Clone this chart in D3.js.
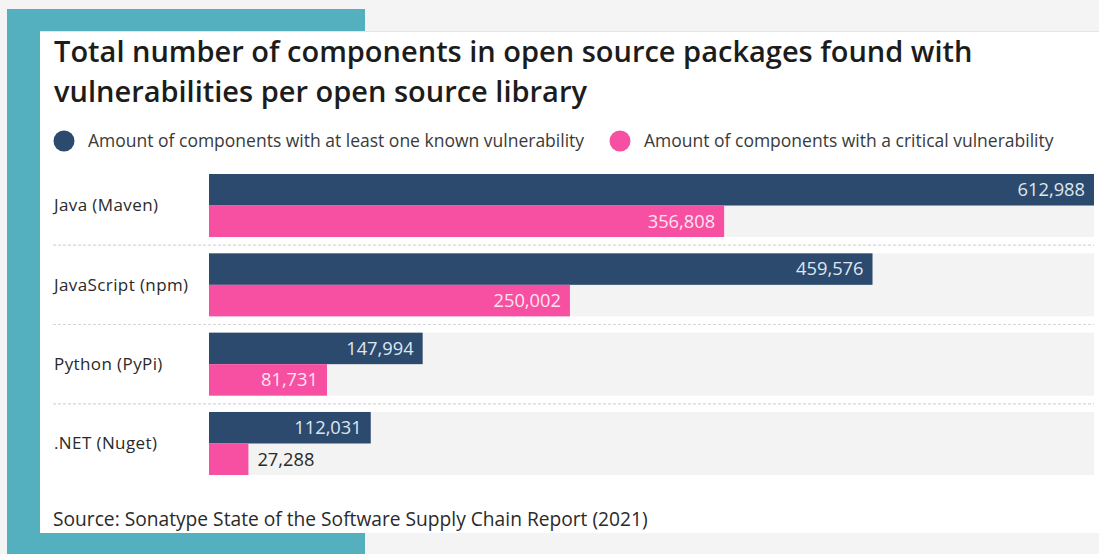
<!DOCTYPE html>
<html>
<head>
<meta charset="utf-8">
<script src="https://cdn.jsdelivr.net/npm/d3@7"></script>
<style>
  html, body { margin: 0; padding: 0; background: #f4f4f4; }
  svg { display: block; }
</style>
</head>
<body>
<svg id="chart" width="1099" height="554"></svg>
<script>
const categories = ["Java (Maven)", "JavaScript (npm)", "Python (PyPi)", ".NET (Nuget)"];
const seriesNames = ["Amount of components with at least one known vulnerability",
                     "Amount of components with a critical vulnerability"];
const atLeastOne = [612988, 459576, 147994, 112031];
const critical = [356808, 250002, 81731, 27288];
const titleLines = ["Total number of components in open source packages found with",
                    "vulnerabilities per open source library"];
const sourceText = "Source: Sonatype State of the Software Supply Chain Report (2021)";

const colors = ["#2c4a6e", "#f74fa2"];
const font = "'Open Sans', 'Noto Sans', sans-serif";

const svg = d3.select("#chart");

// background decorations
svg.append("rect").attr("x", 7).attr("y", 9).attr("width", 358).attr("height", 545).attr("fill", "#54afbf");
svg.append("rect").attr("x", 40).attr("y", 31).attr("width", 1059).attr("height", 1).attr("fill", "#e4e4e4");
svg.append("rect").attr("x", 40).attr("y", 32).attr("width", 1059).attr("height", 501).attr("fill", "#ffffff");

// title
svg.append("g").selectAll("text").data(titleLines).join("text")
  .attr("x", 54).attr("y", (d, i) => 62 + i * 40)
  .attr("font-family", font).attr("font-weight", 600).attr("font-size", 29)
  .attr("fill", "#1c1c1c").text(d => d);

// legend
const legendX = [64, 620];
const lg = svg.append("g").selectAll("g").data(seriesNames).join("g")
  .attr("transform", (d, i) => `translate(${legendX[i]},141)`);
lg.append("circle").attr("r", 10.5).attr("fill", (d, i) => colors[i]);
lg.append("text").attr("x", 24).attr("dy", "0.35em")
  .attr("font-family", font).attr("font-size", 17.5).attr("fill", "#3a3a3a").text(d => d);

// scales
const x = d3.scaleLinear().domain([0, d3.max(atLeastOne)]).range([209, 1094]);
const y0 = d3.scaleBand().domain(categories).range([174, 475]).paddingInner(0.2055).paddingOuter(0);
const y1 = d3.scaleBand().domain([0, 1]).range([0, y0.bandwidth()]);
const gap = y0.step() - y0.bandwidth();

const data = categories.map((c, i) => ({ cat: c, vals: [atLeastOne[i], critical[i]] }));

// separators
svg.append("g").selectAll("line").data(categories.slice(1)).join("line")
  .attr("x1", 53).attr("x2", 1094)
  .attr("y1", d => y0(d) - gap / 2).attr("y2", d => y0(d) - gap / 2)
  .attr("stroke", "#d6d6d6").attr("stroke-width", 1.2).attr("stroke-dasharray", "3,2");

const groups = svg.append("g").selectAll("g").data(data).join("g")
  .attr("transform", d => `translate(0,${y0(d.cat)})`);

// track
groups.append("rect").attr("x", x(0)).attr("width", x.range()[1] - x(0))
  .attr("y", 0).attr("height", y0.bandwidth()).attr("fill", "#f3f3f3");

// category label
groups.append("text").attr("x", 54).attr("y", y0.bandwidth() / 2).attr("dy", "0.35em")
  .attr("font-family", font).attr("font-size", 17).attr("letter-spacing", 0.4)
  .attr("fill", "#2a2a2a").text(d => d.cat);

// bars
const bars = groups.selectAll("g.bar").data(d => d.vals.map((v, j) => ({ v, j }))).join("g").attr("class", "bar");
bars.append("rect").attr("x", x(0)).attr("y", d => y1(d.j)).attr("height", y1.bandwidth())
  .attr("width", d => x(d.v) - x(0)).attr("fill", d => colors[d.j]);

const fmt = d3.format(",");
bars.append("text")
  .attr("font-family", font).attr("font-size", 18.3)
  .attr("y", d => y1(d.j) + y1.bandwidth() / 2).attr("dy", "0.35em")
  .each(function(d) {
    const t = d3.select(this).text(fmt(d.v));
    const w = this.getComputedTextLength();
    const bw = x(d.v) - x(0);
    if (bw > w + 16) {
      t.attr("x", x(d.v) - 9).attr("text-anchor", "end").attr("fill", d.j === 0 ? "#dfe6ef" : "#fde4f0");
    } else {
      t.attr("x", x(d.v) + 9).attr("text-anchor", "start").attr("fill", "#2a2a2a");
    }
  });

// source
svg.append("text").attr("x", 53).attr("y", 526)
  .attr("font-family", font).attr("font-size", 19.2).attr("fill", "#2a2a2a").text(sourceText);
</script>
</body>
</html>
